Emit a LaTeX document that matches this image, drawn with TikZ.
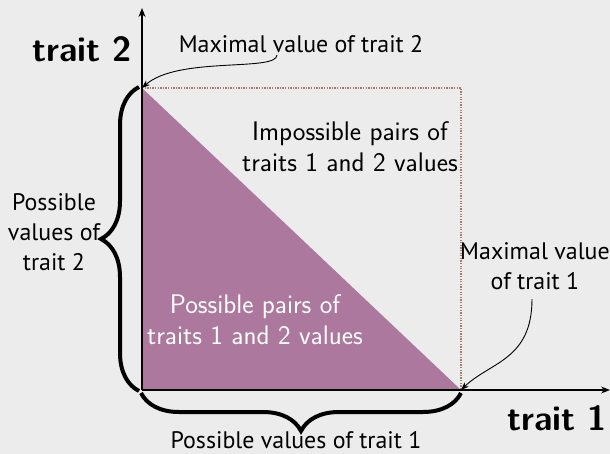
\documentclass[tikz,border=0pt]{standalone}
\usepackage{fontspec}
\setmainfont{PT Sans}
\usetikzlibrary{decorations.pathreplacing,arrows.meta}
\definecolor{bg}{HTML}{ECECEC}
\definecolor{pairfill}{HTML}{AD789D}
\definecolor{dotline}{HTML}{A57A68}
\begin{document}
\begin{tikzpicture}[x=1bp,y=-1bp,
  lbl/.style={inner sep=0pt,font=\fontsize{24}{30}\selectfont,align=center},
  cmlbl/.style={inner sep=0pt,font=\sffamily\fontsize{27}{31}\selectfont,align=center},
  axlbl/.style={inner sep=0pt,font=\sffamily\bfseries\fontsize{35}{40}\selectfont},
  axis/.style={line width=1.1bp,-{Stealth[length=9bp,width=7bp]}},
  pointer/.style={line width=0.9bp,-{Stealth[length=8bp,width=6bp]}},
  bracebar/.style={line width=4bp,decorate,decoration={brace,amplitude=38bp}}]
  \fill[bg] (0,0) rectangle (610,454);
  \useasboundingbox (0,0) rectangle (610,454);

  \coordinate (O) at (142,390);
  \coordinate (Ytop) at (142,88);
  \coordinate (Xend) at (461,390);
  \coordinate (C) at (461,88);

  % feasible region
  \fill[pairfill] (O) -- (Ytop) -- (Xend) -- cycle;
  % bounding box of all pairs
  \draw[dotline,line width=1.3bp,dash pattern=on 1.3bp off 1.3bp] (Ytop) -- (C) -- (Xend);

  % axes
  \coordinate (Yarrow) at (142,8);
  \coordinate (Xarrow) at (610,390);
  \draw[axis] (O) -- (Yarrow);
  \draw[axis] (O) -- (Xarrow);

  % braces
  \draw[bracebar] (139,391) -- (139,87);
  \draw[bracebar] (461,393) -- (141,393);

  % labels
  \node[axlbl] (t2) at (82,49) {trait\,\,2};
  \node[axlbl] (t1) at (557,418) {trait\,\,1};
  \node[lbl] (max2) at (301,44) {Maximal value of trait 2};
  \node[lbl] (max1) at (535,266) {Maximal value\\of trait 1};
  \node[lbl] (pv2) at (54,232) {Possible\\values of\\trait 2};
  \node[lbl] (pv1) at (296,440) {Possible values of trait 1};
  \node[cmlbl] (imp) at (350,147) {Impossible pairs of\\traits 1 and 2 values};
  \node[cmlbl,text=white] (pos) at (255,320) {Possible pairs of\\traits 1 and 2 values};

  % pointers to the maxima
  \draw[pointer] (277,55) .. controls (277,72) and (178,56) .. (Ytop);
  \draw[pointer] (532,299) .. controls (532,360) and (490,362) .. (Xend);
\end{tikzpicture}
\end{document}
